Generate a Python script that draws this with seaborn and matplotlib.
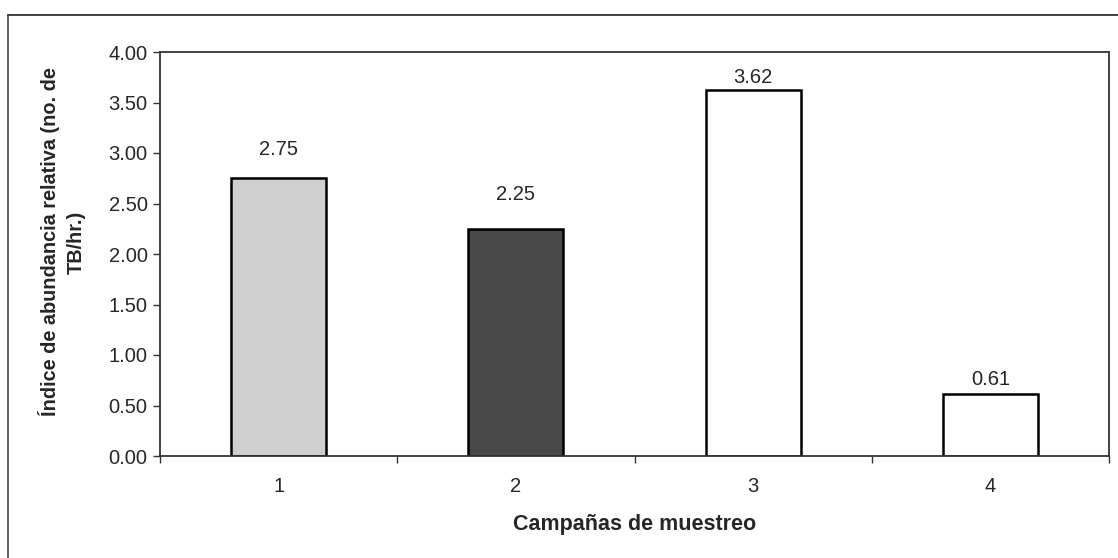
import matplotlib
matplotlib.use("Agg")
import matplotlib.pyplot as plt
from matplotlib.lines import Line2D
import numpy as np
import pandas as pd
import seaborn as sns

# Campaign data
campaigns = ["1", "2", "3", "4"]
abundance = [2.75, 2.25, 3.62, 0.61]
bar_colors = ["#cfcfcf", "#484848", "#ffffff", "#ffffff"]
value_labels = ["2.75", "2.25", "3.62", "0.61"]
label_offsets_pt = [21, 25, 9, 11]

y_ticks = [0.0, 0.5, 1.0, 1.5, 2.0, 2.5, 3.0, 3.5, 4.0]

sns.set_theme(style="white")
plt.rcParams["font.family"] = ["Liberation Sans", "DejaVu Sans"]

df = pd.DataFrame({"campaign": campaigns, "value": abundance})

W, H = 1118, 558
fig = plt.figure(figsize=(W / 100, H / 100), dpi=100)
left, right, top, bottom = 160, 1109, 52, 456
ax = fig.add_axes([left / W, 1 - bottom / H, (right - left) / W, (bottom - top) / H])

sns.barplot(data=df, x="campaign", y="value", hue="campaign",
            palette=bar_colors, edgecolor="black", linewidth=1.8,
            width=0.4, legend=False, ax=ax, saturation=1)

ax.set_xlim(-0.5, len(campaigns) - 0.5)
ax.set_ylim(0, 4.0)
ax.set_yticks(y_ticks)
ax.set_yticklabels([f"{t:.2f}" for t in y_ticks], fontsize=14.5)
ax.tick_params(axis="y", which="major", direction="out", length=5, width=1,
               color="#333333", pad=4, left=True)
ax.tick_params(axis="x", which="major", length=0, pad=15, labelsize=14.5)
ax.set_xticks(np.arange(-0.5, len(campaigns) + 0.5, 1.0), minor=True)
ax.tick_params(axis="x", which="minor", direction="out", length=5, width=1,
               color="#333333", bottom=True)

for spine in ax.spines.values():
    spine.set_visible(True)
    spine.set_color("#333333")
    spine.set_linewidth(1.3)

ax.set_xlabel("Campañas de muestreo", fontsize=15.5, fontweight="bold",
              labelpad=13)
ax.set_ylabel("")

fig.text(62 / W, 1 - 242 / H, "Índice de abundancia relativa (no. de\nTB/hr.)",
         rotation=90, ha="center", va="center", fontsize=14.3,
         fontweight="bold", linespacing=1.45, multialignment="center")

for i, (v, lab, off) in enumerate(zip(abundance, value_labels, label_offsets_pt)):
    ax.annotate(lab, xy=(i, v), xytext=(0, off), textcoords="offset points",
                ha="center", va="center", fontsize=14.5)

# Outer chart frame (left and top edges)
fig.add_artist(Line2D([8 / W, 8 / W], [0, 1 - 15 / H], transform=fig.transFigure,
                      color="#555555", linewidth=1.3))
fig.add_artist(Line2D([8 / W, 1], [1 - 15 / H, 1 - 15 / H], transform=fig.transFigure,
                      color="#333333", linewidth=1.3))

fig.savefig("out.png", dpi=100, facecolor="white")
